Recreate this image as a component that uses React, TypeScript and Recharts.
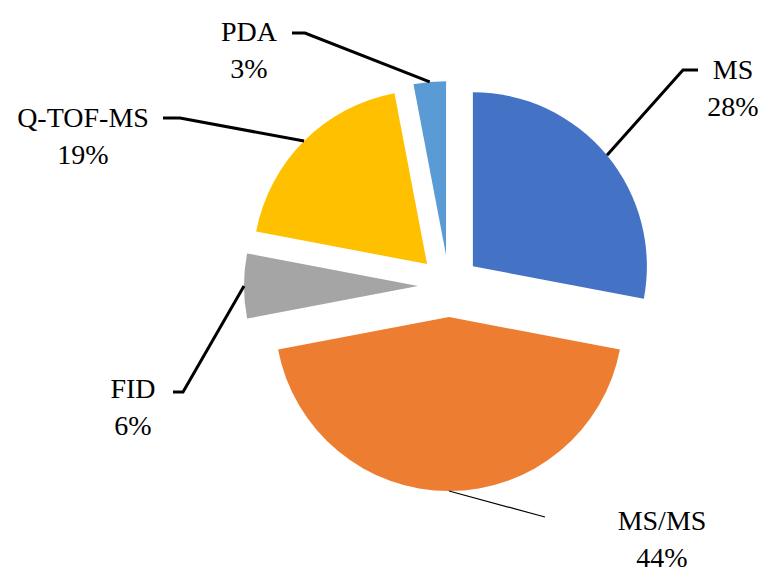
import React from 'react';
import { PieChart, Pie, Cell, Sector } from 'recharts';

const categories = ['MS', 'MS/MS', 'FID', 'Q-TOF-MS', 'PDA'];
const shares = [28, 44, 6, 19, 3];
const colors = ['#4472C4', '#ED7D31', '#A5A5A5', '#FFC000', '#5B9BD5'];

const data = categories.map((name, i) => ({ name, value: shares[i] }));

// where each label sits (text centre, first baseline) and the elbow of its leader line
const labelLayout: Record<string, { tx: number; ty: number; elbow: [number, number][] }> = {
  MS: { tx: 733, ty: 79, elbow: [[683, 70], [698, 70]] },
  'MS/MS': { tx: 662, ty: 530, elbow: [[545, 517]] },
  FID: { tx: 133, ty: 398, elbow: [[183, 392], [173, 392]] },
  'Q-TOF-MS': { tx: 83, ty: 127, elbow: [[180, 118], [163, 118]] },
  PDA: { tx: 249, ty: 41, elbow: [[305, 33], [292, 33]] },
};

const EXPLODE = 31;
const RAD = Math.PI / 180;
const FONT = '"Palatino Linotype", "Book Antiqua", "Liberation Serif", serif';

const shift = (cx: number, cy: number, angle: number, r: number) => ({
  x: cx + Math.cos(-angle * RAD) * r,
  y: cy + Math.sin(-angle * RAD) * r,
});

const ExplodedSlice = (props: any) => {
  const mid = (props.startAngle + props.endAngle) / 2;
  const c = shift(props.cx, props.cy, mid, EXPLODE);
  return <Sector {...props} cx={c.x} cy={c.y} stroke="none" />;
};

const renderLabel = (props: any) => {
  const { cx, cy, startAngle, endAngle, outerRadius, name, value } = props;
  const mid = (startAngle + endAngle) / 2;
  const c = shift(cx, cy, mid, EXPLODE);
  const start = shift(c.x, c.y, mid, outerRadius);
  const lay = labelLayout[name];
  const pts = [[start.x, start.y], ...lay.elbow].map((p) => p.join(',')).join(' ');
  const thin = name === 'MS/MS';
  return (
    <g>
      <polyline points={pts} fill="none" stroke="#000" strokeWidth={thin ? 1.2 : 3} />
      <text x={lay.tx} y={lay.ty} textAnchor="middle" fontFamily={FONT} fontSize={28} fill="#000">
        {name}
      </text>
      <text x={lay.tx} y={lay.ty + 37} textAnchor="middle" fontFamily={FONT} fontSize={28} fill="#000">
        {value}%
      </text>
    </g>
  );
};

export default function App() {
  return (
    <div style={{ position: 'fixed', left: 0, top: 0, width: 762, height: 575, background: '#fff' }}>
      <PieChart width={762} height={575} margin={{ top: 0, right: 0, bottom: 0, left: 0 }}>
        <Pie
          data={data}
          dataKey="value"
          nameKey="name"
          cx={449}
          cy={286}
          outerRadius={174}
          startAngle={90}
          endAngle={-270}
          stroke="none"
          shape={ExplodedSlice}
          label={renderLabel}
          labelLine={false}
          isAnimationActive={false}
        >
          {data.map((d, i) => (
            <Cell key={d.name} fill={colors[i]} />
          ))}
        </Pie>
      </PieChart>
    </div>
  );
}
